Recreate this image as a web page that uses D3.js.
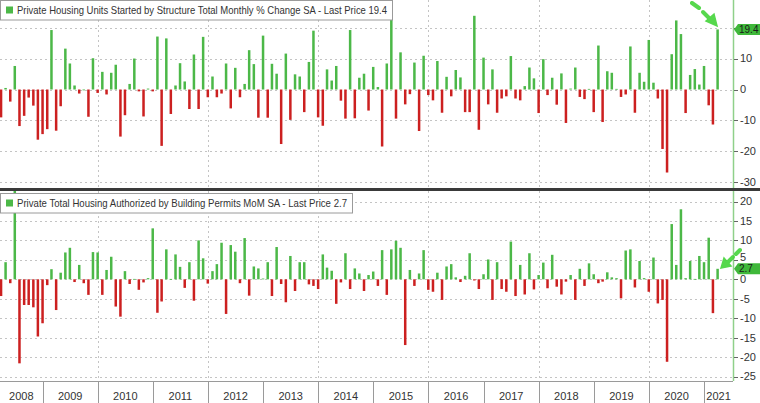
<!DOCTYPE html>
<html><head><meta charset="utf-8">
<script src="https://cdn.jsdelivr.net/npm/d3@7"></script>
<style>
html,body{margin:0;padding:0;background:#fff;}
svg{display:block;font-family:"Liberation Sans",Arial,sans-serif;}
</style></head><body>
<svg id="c" width="760" height="403"></svg>
<script>
// Monthly % change, Mar 2008 .. Mar 2021
const startsPct = [
  -9.0, 0.5, -3.9, 7.6, -11.8, -8.5, -2.6, -5.2, -16.2, -14.4,
  -12.8, 19.2, -13.3, -5.4, 13.2, 8.4, 1.3, -1.3, 0, -8.8, 10.1, -1.1,
  5.7, -1.6, 5.4, 8.0, -15.2, -8.3, 1.8, 10.0, -0.6, -8.7, 0.3, -0.6,
  17.1, -18.2, 16.5, -7.9, 1.3, 8.5, 2.6, -6.3, 11.3, -6.3, 17.0, -2.5,
  4.2, -2.5, -1.3, 8.4, -6.1, 7.0, -2.5, 1.8, 12.7, 8.2, -9.1, 17.4,
  -9.1, 8.3, 5.1, -17.6, 11.6, -9.8, 4.9, 4.2, -7.3, 8.9, 19.0, -9.0,
  -11.7, 6.5, 2.9, 7.6, -3.6, -9.4, 19.2, -9.3, 3.8, 5.1, -6.8, 7.3,
  0.8, -18.4, 8.4, 24.0, -9.4, 12.0, -4.8, -1.5, 8.7, -13.4, 10.9, -1.8,
  -3.5, 9.2, -7.5, 4.1, -2.2, 6.3, 3.9, -7.3, -7.3, 23.8, -13.0, 10.3,
  -4.8, 6.5, -7.5, -2.9, -2.2, 10.8, -2.9, -3.5, 1.1, 7.1, 3.6, -7.6,
  9.8, -1.8, 3.8, -4.9, 5.2, -10.8, 0.3, 7.1, -2.4, -3.1, 0.2, -7.3,
  14.2, -10.5, 5.9, 5.4, 0.2, -2.4, -1.6, 13.9, -7.5, 5.4, 2.5, 16.0,
  2.2, -2.9, -19.2, -26.8, 11.4, 22.3, 17.9, -7.6, 4.7, 6.6, 1.6, 7.6,
  -5.1, -11.3, 19.4
];
const permitsPct = [
  -4.3, 4.4, -1.0, 23.0, -21.6, -6.6, -6.6, -7.2, -14.7, -11.3,
  -1.5, 2.6, -7.9, 1.7, 6.9, 8.1, -0.7, 3.7, -1.0, -4.0, 7.0, 6.9,
  -4.0, 2.4, 5.8, -7.0, -9.6, 2.1, -1.2, 0.1, -2.7, -0.8, 0.3, 13.1,
  -8.6, -5.7, 7.7, 0.1, 6.4, 3.2, -2.2, 4.4, -5.5, 10.0, 5.4, -1.1,
  2.1, 3.9, 9.4, -8.9, 8.8, 7.1, -1.0, 10.6, -4.2, 3.3, 2.8, 0.2,
  4.4, -4.3, 8.3, -1.2, -5.9, 6.0, -3.0, 4.4, 4.4, -1.3, -1.7, -2.5,
  6.4, 3.0, 2.2, -6.3, -0.8, 6.7, -2.5, 2.8, 1.5, -3.0, 1.1, 2.0,
  -1.7, 7.5, -4.0, 7.7, 9.9, 8.1, -16.9, 2.4, -1.7, 1.5, 7.5, -2.7,
  -3.2, 1.7, -5.3, 3.3, 3.9, 0.5, -0.7, 0.9, 6.7, -0.3, -2.5, 1.3,
  5.1, -5.3, 4.4, -2.5, -3.2, 9.7, -4.3, 3.7, -3.9, 6.7, -2.6, 1.1,
  4.3, -2.3, 6.3, -1.9, -3.9, -0.6, 1.1, -5.3, 2.7, -1.7, 4.1, 1.3,
  -1.0, -0.6, 1.8, 0.5, 0.3, -4.9, 7.4, 7.7, -2.1, 4.7, 0.3, -3.2,
  5.6, -6.2, -5.3, -21.2, 14.2, 3.7, 18.0, 0.3, 4.7, 0.1, 6.0, 4.4,
  10.7, -8.7, 2.7
];
const startsTicks = [20, 10, 0, -10, -20, -30];
const startsTickLabels = [10, 0, -10, -20, -30];   // 20 is hidden by the last-price tag
const permitsTicks = [20, 15, 10, 5, 0, -5, -10, -15, -20, -25];
const permitsTickLabels = [20, 15, 10, 5, 0, -5, -10, -15, -20, -25];
const yearLabels = ["2008","2009","2010","2011","2012","2013","2014","2015","2016","2017","2018","2019","2020","2021"];
const gridYears = ["2010","2012","2014","2016","2018","2020"];
const startsTitle = "Private Housing Units Started by Structure Total Monthly % Change SA - Last Price 19.4";
const permitsTitle = "Private Total Housing Authorized by Building Permits MoM SA - Last Price 2.7";
const lastStarts = "19.4";
const lastPermits = "2.7";

const GREEN = "#4cb848", RED = "#cc2020", AXIS_GREEN = "#8fd08a";
const plotR = 733;
const svg = d3.select("#c");

const months = d3.timeMonth.range(new Date(2008, 2, 1), new Date(2021, 3, 1));
const monthEnd = m => d3.timeDay.offset(d3.timeMonth.offset(m, 1), -1);
const x = d3.scaleTime().domain([new Date(2008, 2, 24), new Date(2021, 6, 11)]).range([0, plotR]);

const panels = [
  {vals: startsPct, ticks: startsTicks, labels: startsTickLabels, y: d3.scaleLinear().domain([-31.8, 28.9]).range([188, 0]),
   top: 0, bottom: 188, title: startsTitle, titleLen: 370, legendY: 0, legendW: 392, last: lastStarts, id: "a"},
  {vals: permitsPct, ticks: permitsTicks, labels: permitsTickLabels, y: d3.scaleLinear().domain([-26.14, 22.7]).range([381, 191]),
   top: 191, bottom: 381, title: permitsTitle, titleLen: 330, legendY: 193, legendW: 352, last: lastPermits, id: "b"}
];

const defs = svg.append("defs");
panels.forEach(p => {
  defs.append("clipPath").attr("id", "clip" + p.id)
    .append("rect").attr("x", 0).attr("y", p.top).attr("width", plotR).attr("height", p.bottom - p.top);
});

panels.forEach(p => {
  const g = svg.append("g");
  const ty = p.y(+p.last);
  // horizontal grid
  g.selectAll(".hg").data(p.ticks).enter().append("line")
    .attr("x1", 0).attr("x2", plotR)
    .attr("y1", d => Math.round(p.y(d)) + 0.5).attr("y2", d => Math.round(p.y(d)) + 0.5)
    .attr("stroke", "#c4c4c4").attr("stroke-dasharray", "2,3");
  // vertical grid every two years
  g.selectAll(".vg").data(gridYears).enter().append("line")
    .attr("x1", d => Math.round(x(new Date(+d, 0, 1))) + 0.5)
    .attr("x2", d => Math.round(x(new Date(+d, 0, 1))) + 0.5)
    .attr("y1", p.top).attr("y2", p.bottom)
    .attr("stroke", "#c4c4c4").attr("stroke-dasharray", "2,3");
  // bars
  const bw = 2.5;
  g.append("g").attr("clip-path", `url(#clip${p.id})`)
    .selectAll("rect").data(p.vals).enter().append("rect")
    .attr("x", (d, i) => x(monthEnd(months[i])) - bw / 2)
    .attr("width", bw)
    .attr("y", d => p.y(Math.max(0, d)))
    .attr("height", d => Math.max(0.8, Math.abs(p.y(d) - p.y(0))))
    .attr("fill", d => d >= 0 ? GREEN : RED);
  // right axis
  g.append("line").attr("x1", plotR + 0.5).attr("x2", plotR + 0.5)
    .attr("y1", p.top).attr("y2", p.bottom).attr("stroke", AXIS_GREEN).attr("stroke-width", 1.5);
  g.selectAll(".tk").data(p.ticks).enter().append("line")
    .attr("x1", plotR + 1).attr("x2", plotR + 5)
    .attr("y1", d => Math.round(p.y(d)) + 0.5).attr("y2", d => Math.round(p.y(d)) + 0.5)
    .attr("stroke", "#666");
  g.selectAll(".tl").data(p.labels).enter().append("text")
    .attr("x", plotR + 7)
    .attr("y", d => {
      const yy = p.y(d);
      // nudge a label that sits just above the tag so both stay readable
      return (yy < ty && ty - yy < 12) ? ty - 12 : yy;
    })
    .attr("dy", "0.35em")
    .attr("font-size", 11).attr("fill", "#333")
    .text(d => d);
  // last value tag
  g.append("path")
    .attr("d", `M${plotR + 1},${ty} L${plotR + 5},${ty - 5.5} H760 V${ty + 5.5} H${plotR + 5} Z`)
    .attr("fill", "#3fb83a");
  g.append("text").attr("x", plotR + 6).attr("y", ty).attr("dy", "0.36em")
    .attr("font-size", 10).attr("fill", "#1a1a1a").text(p.last);
  // legend box
  g.append("rect").attr("x", 0.5).attr("y", p.legendY + 0.5).attr("width", p.legendW).attr("height", 19.5)
    .attr("fill", "#fff").attr("stroke", "#9a9a9a");
  g.append("rect").attr("x", 6).attr("y", p.legendY + 6.5).attr("width", 7).attr("height", 7).attr("fill", GREEN);
  g.append("text").attr("x", 17).attr("y", p.legendY + 14)
    .attr("font-size", 11).attr("fill", "#333")
    .attr("textLength", p.titleLen).attr("lengthAdjust", "spacingAndGlyphs")
    .text(p.title);
});

// separator between panels
svg.append("rect").attr("x", 0).attr("y", 188).attr("width", 760).attr("height", 3).attr("fill", "#3a3a3a");

// bottom time axis
svg.append("line").attr("x1", 0).attr("x2", plotR).attr("y1", 381.5).attr("y2", 381.5).attr("stroke", "#9a9a9a");
const yearStart = y => Math.max(0, x(new Date(+y, 0, 1)));
const yearEnd = y => Math.min(plotR, x(new Date(+y + 1, 0, 1)));
svg.selectAll(".ysep").data(yearLabels.slice(1)).enter().append("line")
  .attr("x1", d => Math.round(x(new Date(+d, 0, 1))) + 0.5)
  .attr("x2", d => Math.round(x(new Date(+d, 0, 1))) + 0.5)
  .attr("y1", 381).attr("y2", 403).attr("stroke", "#9a9a9a");
svg.selectAll(".ylab").data(yearLabels).enter().append("text")
  .attr("x", d => (yearStart(d) + yearEnd(d)) / 2).attr("y", 400)
  .attr("text-anchor", "middle").attr("font-size", 11).attr("fill", "#333")
  .text(d => d);

// hand-drawn style annotation arrows
const arrowG = svg.append("g").attr("fill", "#44d43a").attr("stroke", "#44d43a")
  .attr("stroke-linecap", "round").attr("opacity", 0.9);
arrowG.append("line").attr("x1", 692).attr("y1", 3).attr("x2", 699).attr("y2", 8).attr("stroke-width", 4);
arrowG.append("line").attr("x1", 703).attr("y1", 12).attr("x2", 709).attr("y2", 18).attr("stroke-width", 4);
arrowG.append("path").attr("d", "M706,21 L714,14 L717,26 Z").attr("stroke-width", 1.5);
arrowG.append("line").attr("x1", 740).attr("y1", 250).attr("x2", 736).attr("y2", 254).attr("stroke-width", 4);
arrowG.append("line").attr("x1", 733).attr("y1", 257).attr("x2", 728).attr("y2", 262).attr("stroke-width", 4);
arrowG.append("path").attr("d", "M731,266 L724,258 L721,268 Z").attr("stroke-width", 1.5);
</script>
</body></html>
